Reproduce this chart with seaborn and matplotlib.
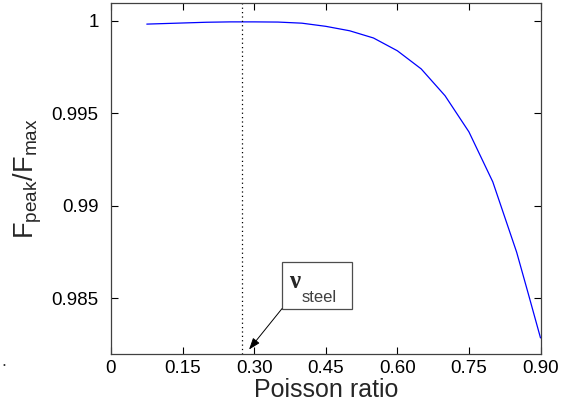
import matplotlib
matplotlib.use("Agg")
import matplotlib.pyplot as plt
import seaborn as sns
import numpy as np
import pandas as pd
from matplotlib.patches import Rectangle

# ---- data ----
poisson = [0.075, 0.10, 0.15, 0.20, 0.25, 0.30, 0.35, 0.40, 0.45, 0.50,
           0.55, 0.60, 0.65, 0.70, 0.75, 0.80, 0.85, 0.875, 0.90]
ratio = [0.99982, 0.99984, 0.99988, 0.99992, 0.99994, 0.99994, 0.99993,
         0.99987, 0.99970, 0.99946, 0.99907, 0.99838, 0.99740, 0.99595,
         0.99400, 0.99130, 0.98750, 0.98520, 0.98287]
nu_steel = 0.275
xticks = [0, 0.15, 0.30, 0.45, 0.60, 0.75, 0.90]
xticklabels = ["0", "0.15", "0.30", "0.45", "0.60", "0.75", "0.90"]
yticks = [0.985, 0.99, 0.995, 1.0]
yticklabels = ["0.985", "0.99", "0.995", "1"]

df = pd.DataFrame({"Poisson ratio": poisson, "ratio": ratio})

sns.set_style("ticks")
plt.rcParams["font.family"] = ["Liberation Sans", "DejaVu Sans"]
plt.rcParams["mathtext.default"] = "regular"

fig = plt.figure(figsize=(5.67, 4.13), dpi=100)
ax = fig.add_axes([111 / 567, 1 - 354 / 413, (540.5 - 111) / 567, (354 - 3) / 413])

sns.lineplot(data=df, x="Poisson ratio", y="ratio", ax=ax, color=(0, 0, 1),
             lw=0.9, estimator=None, sort=False)
ax.axvline(nu_steel, color="black", ls=(0, (1, 2.5)), lw=0.9)

ax.set_xlim(0, 0.9)
ax.set_ylim(0.982, 1.00096)
ax.set_xticks(xticks)
ax.set_xticklabels(xticklabels)
ax.set_yticks(yticks)
ax.set_yticklabels(yticklabels)
ax.tick_params(direction="in", length=5, width=0.8, top=True, right=True,
               labelsize=13.5, colors="black")
ax.tick_params(axis="x", pad=4)
ax.tick_params(axis="y", pad=9)
for s in ax.spines.values():
    s.set_color("0.25")
    s.set_linewidth(0.9)

ax.set_xlabel("Poisson ratio", fontsize=18, labelpad=1)
ax.set_ylabel(r"F$_{peak}$/F$_{max}$", fontsize=19.5, labelpad=5)

# annotation box for nu_steel
bx0, bx1, by0, by1 = 0.3583, 0.505, 0.98445, 0.98698
ax.add_patch(Rectangle((bx0, by0), bx1 - bx0, by1 - by0, fill=True,
                       facecolor="white", edgecolor="0.3", lw=0.9, zorder=5))
ax.text(0.373, 0.98558, "ν", fontsize=18, family="Liberation Serif",
        weight="bold", zorder=6, va="baseline")
ax.text(0.400, 0.98483, "steel", fontsize=12, zorder=6, color="0.25",
        va="baseline")
ax.annotate("", xy=(0.2892, 0.98224), xytext=(bx0, by0),
            arrowprops=dict(arrowstyle="-|>,head_length=0.7,head_width=0.25",
                            color="black", lw=0.7, shrinkA=0, shrinkB=0),
            zorder=6, annotation_clip=False)

fig.text(1 / 567, 1 - 366 / 413, ".", fontsize=13, ha="left", va="baseline",
         color="0.2")

fig.savefig("out.png", dpi=100)
